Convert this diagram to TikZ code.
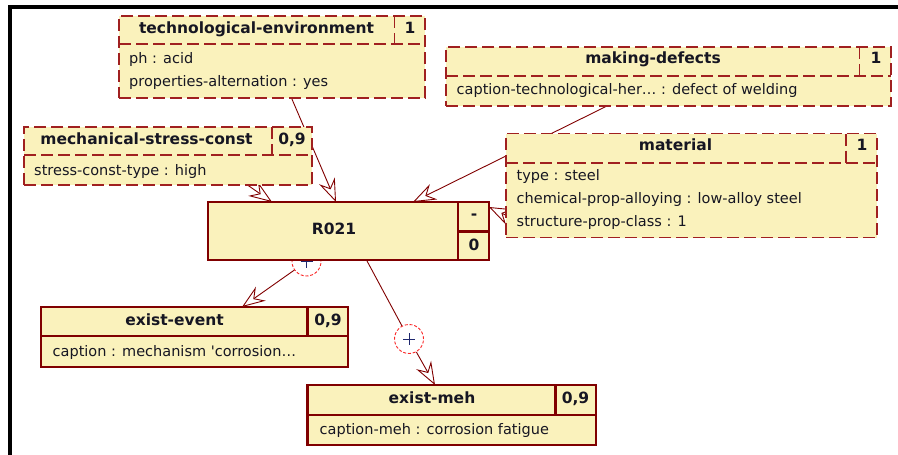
\documentclass[tikz,border=0pt]{standalone}
\usepackage{fontspec}
\setmainfont{DejaVu Sans}
\usetikzlibrary{arrows.meta}
\pgfdeclarelayer{back}
\pgfsetlayers{back,main}
\definecolor{boxfill}{RGB}{250,242,188}
\definecolor{boxedge}{RGB}{128,0,0}
\definecolor{dashedge}{RGB}{160,32,32}
\definecolor{inktext}{RGB}{22,22,34}
\definecolor{plusink}{RGB}{30,40,110}
\definecolor{ringred}{RGB}{250,40,40}
\newcommand\hdfont{\fontsize{15.5}{18}\selectfont\bfseries}
\newcommand\atfont{\fontsize{14.5}{17}\selectfont}
\tikzset{
  dbox/.style={draw=dashedge, fill=boxfill, line width=1.8pt, dash pattern=on 12pt off 5pt,
    inner sep=0pt, outer sep=0pt, anchor=north west},
  sbox/.style={draw=boxedge, fill=boxfill, line width=2.8pt, inner sep=0pt, outer sep=0pt,
    anchor=north west},
  dsep/.style={draw=dashedge, line width=1.8pt, dash pattern=on 12pt off 5pt},
  ssep/.style={draw=boxedge, line width=2.4pt},
  head/.style={font=\hdfont, text=inktext, inner sep=0pt, text height=11pt, text depth=3.5pt},
  attr/.style={font=\atfont, text=inktext, inner sep=0pt, anchor=west, text height=11pt,
    text depth=3.5pt},
  link/.style={draw=boxedge, line width=0.9pt,
    -{Stealth[open, length=23pt, width=17pt, inset=8pt, fill=white, line width=0.9pt]}},
  plain/.style={draw=boxedge, line width=0.9pt},
  ring/.style={circle, draw=ringred, fill=white, line width=0.9pt, dash pattern=on 3pt off 1.8pt,
    minimum size=29pt, inner sep=0pt},
  plusmark/.style={draw=plusink, line width=1pt},
}
\begin{document}
\begin{tikzpicture}[x=1pt, y=-1pt]
\useasboundingbox (0,0) rectangle (898,455);

% black frame rules along the top and the left side
\draw[line width=4pt] (9.5,455) -- (9.5,7) -- (898,7);

% ---- technological-environment
\node[dbox, minimum width=306pt, minimum height=82pt] (te) at (119,16) {};
\draw[dsep] (119,44) -- (425,44);
\draw[dsep] (394.5,16) -- (394.5,44);
\node[head] (te-h) at (256.5,29.5) {technological-environment};
\node[head] (te-n) at (410,29.5) {1};
\node[attr] (te-a1) at (129,60) {ph : acid};
\node[attr] (te-a2) at (129,83) {properties-alternation : yes};

% ---- mechanical-stress-const
\node[dbox, minimum width=288pt, minimum height=58pt] (msc) at (24,127) {};
\draw[dsep] (24,155) -- (312,155);
\draw[dsep] (272,127) -- (272,155);
\node[head] (msc-h) at (146.5,141) {mechanical-stress-const};
\node[head] (msc-n) at (292,141) {0,9};
\node[attr] (msc-a1) at (34,171.5) {stress-const-type : high};

% ---- making-defects
\node[dbox, minimum width=445pt, minimum height=59pt] (md) at (446,47) {};
\draw[dsep] (446,76) -- (891,76);
\draw[dsep] (859.5,47) -- (859.5,76);
\node[head] (md-h) at (653,60) {making-defects};
\node[head] (md-n) at (876,60) {1};
\node[attr] (md-a1) at (456.5,90.5) {caption-technological-her… : defect of welding};

% ---- material
\node[dbox, minimum width=371pt, minimum height=104pt] (mat) at (506,133.5) {};
\draw[dsep] (506,163) -- (877,163);
\draw[dsep] (846,133.5) -- (846,163);
\node[head] (mat-h) at (675.5,147) {material};
\node[head] (mat-n) at (862,147) {1};
\node[attr] (mat-a1) at (516.5,177) {type : steel};
\node[attr] (mat-a2) at (516.5,200) {chemical-prop-alloying : low-alloy steel};
\node[attr] (mat-a3) at (516.5,223) {structure-prop-class : 1};

% ---- rule R021
\node[sbox, minimum width=281pt, minimum height=58pt] (r) at (208,202) {};
\draw[ssep] (458,202) -- (458,260);
\draw[ssep] (458,231.5) -- (489,231.5);
\node[head] (r-h) at (334,231) {R021};
\node[head] (r-s) at (474,216) {-};
\node[head] (r-v) at (474,246.5) {0};

% ---- exist-event
\node[sbox, minimum width=307pt, minimum height=60pt] (ee) at (41,307) {};
\draw[ssep] (41,336) -- (348,336);
\draw[ssep] (307.5,307) -- (307.5,336);
\node[head] (ee-h) at (174.5,321.5) {exist-event};
\node[head] (ee-n) at (328,321.5) {0,9};
\node[attr] (ee-a1) at (52.5,352.5) {caption : mechanism \textquotesingle corrosion…};

% ---- exist-meh
\node[sbox, minimum width=288.5pt, minimum height=60pt] (em) at (307.5,385) {};
\draw[ssep] (307.5,415) -- (596,415);
\draw[ssep] (555.5,385) -- (555.5,415);
\node[head] (em-h) at (432,400) {exist-meh};
\node[head] (em-n) at (575.5,400) {0,9};
\node[attr] (em-a1) at (319.5,430.5) {caption-meh : corrosion fatigue};

% ---- connectors that start behind the boxes
\begin{pgfonlayer}{back}
  \draw[link] ([xshift=172.5pt]te.south west) -- ([xshift=128pt]r.north west);
  \draw[link] ([xshift=161pt]md.south west) -- ([xshift=205pt]r.north west);
  \draw[link] ([xshift=209pt,yshift=10pt]msc.south west) -- ([xshift=64pt]r.north west);
  \draw[link] ([xshift=17pt,yshift=-38pt]mat.west) -- ([yshift=24pt]r.east);
  \node[ring] (c1) at (306.5,261.5) {};
  \draw[plusmark] (c1.center) +(-6,0) -- +(6,0) (c1.center) +(0,-6) -- +(0,6);
\end{pgfonlayer}

% ---- connectors from the rule to its conclusions
\draw[link] (c1) -- ([xshift=201pt]ee.north west);
\node[ring] (c2) at (409,339) {};
\draw[plusmark] (c2.center) +(-6,0) -- +(6,0) (c2.center) +(0,-6) -- +(0,6);
\draw[plain] ([xshift=158.5pt]r.south west) -- (c2);
\draw[link] (c2) -- ([xshift=127.5pt]em.north west);
\end{tikzpicture}
\end{document}
